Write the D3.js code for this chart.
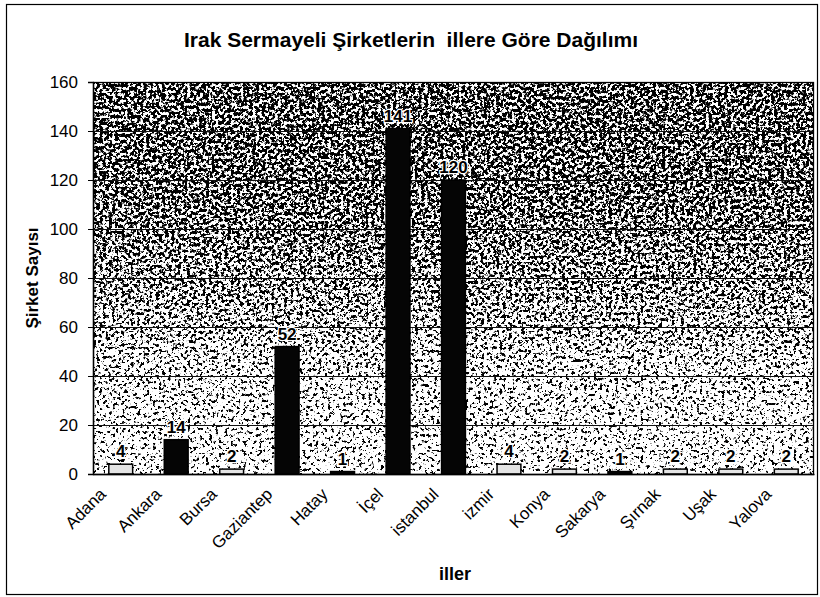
<!DOCTYPE html>
<meta charset="utf-8">
<title>Irak Sermayeli Şirketler</title>
<body>
<script src="https://cdn.jsdelivr.net/npm/d3@7"></script>
<style>
html, body {
    margin: 0;
    background: #fff;
}
svg {
    display: block;
    font-family: "Liberation Sans", Arial, sans-serif;
}
</style>
<script>
var cities = ["Adana", "Ankara", "Bursa", "Gaziantep", "Hatay", "İçel", "istanbul", "izmir", "Konya", "Sakarya", "Şırnak", "Uşak", "Yalova"],
    counts = [4, 14, 2, 52, 1, 141, 120, 4, 2, 1, 2, 2, 2],
    yTicks = [0, 20, 40, 60, 80, 100, 120, 140, 160];

var width = 820,
    height = 597,
    margin = {top: 82, right: 6, bottom: 123, left: 93};

var plotW = width - margin.left - margin.right,
    plotH = height - margin.top - margin.bottom;

var svg = d3.select("body").append("svg")
    .attr("width", width)
    .attr("height", height);

var defs = svg.append("defs");

// speckled scan texture: noise + vertical density ramp, then thresholded
var filter = defs.append("filter")
    .attr("id", "speckle")
    .attr("color-interpolation-filters", "sRGB")
    .attr("x", 0).attr("y", 0).attr("width", 1).attr("height", 1);
filter.append("feTurbulence")
    .attr("type", "fractalNoise")
    .attr("baseFrequency", 0.32)
    .attr("numOctaves", 4)
    .attr("seed", 11)
    .attr("result", "noise");
filter.append("feComposite")
    .attr("in", "noise")
    .attr("in2", "SourceGraphic")
    .attr("operator", "arithmetic")
    .attr("k1", 0).attr("k2", 0.5).attr("k3", 0.5).attr("k4", 0)
    .attr("result", "sum");
filter.append("feColorMatrix")
    .attr("in", "sum")
    .attr("type", "matrix")
    .attr("values", "0 0 0 0 0  0 0 0 0 0  0 0 0 0 0  40 0 0 0 -20");

var ramp = defs.append("linearGradient")
    .attr("id", "ramp")
    .attr("x1", 0).attr("y1", 0).attr("x2", 0).attr("y2", 1);
[[0, 0.535], [0.3, 0.525], [0.55, 0.5], [0.75, 0.47], [1, 0.455]].forEach(function(s) {
    var v = Math.round(s[1] * 255);
    ramp.append("stop")
        .attr("offset", s[0])
        .attr("stop-color", d3.rgb(v, v, v));
});

// outer frame
svg.append("rect")
    .attr("x", 6.5)
    .attr("y", 4.5)
    .attr("width", 811)
    .attr("height", 590)
    .attr("fill", "none")
    .attr("stroke", "#000")
    .attr("stroke-width", 1.2);

var x = d3.scaleBand()
    .domain(cities)
    .range([margin.left, width - margin.right])
    .paddingInner(0.57)
    .paddingOuter(0.285);

var y = d3.scaleLinear()
    .domain([0, 160])
    .range([height - margin.bottom, margin.top]);

svg.append("rect")
    .attr("x", margin.left)
    .attr("y", margin.top)
    .attr("width", plotW)
    .attr("height", plotH)
    .attr("fill", "url(#ramp)")
    .attr("filter", "url(#speckle)");

// gridlines
svg.append("g")
    .selectAll("line")
    .data(yTicks.filter(function(d) { return d > 0 && d < 160; }))
    .enter().append("line")
    .attr("x1", margin.left)
    .attr("x2", width - margin.right)
    .attr("y1", function(d) { return Math.round(y(d)) + 0.5; })
    .attr("y2", function(d) { return Math.round(y(d)) + 0.5; })
    .attr("stroke", "#111")
    .attr("stroke-width", 1.2);

// plot border
svg.append("rect")
    .attr("x", margin.left + 0.5)
    .attr("y", margin.top + 0.5)
    .attr("width", plotW - 1)
    .attr("height", plotH)
    .attr("fill", "none")
    .attr("stroke", "#000")
    .attr("stroke-width", 1.3);

var dark = function(d) { return d >= 10 || d <= 1; };

svg.append("g")
    .selectAll("rect")
    .data(counts)
    .enter().append("rect")
    .attr("x", function(d, i) { return x(cities[i]); })
    .attr("y", function(d) { return y(d); })
    .attr("width", x.bandwidth())
    .attr("height", function(d) { return y(0) - y(d); })
    .attr("fill", function(d) { return dark(d) ? "#050505" : "#e4e4e4"; })
    .attr("stroke", "#000")
    .attr("stroke-width", 1.5);

svg.append("g")
    .selectAll("text")
    .data(counts)
    .enter().append("text")
    .attr("x", function(d, i) { return x(cities[i]) + x.bandwidth() / 2; })
    .attr("y", function(d) { return y(d) - 7; })
    .attr("text-anchor", "middle")
    .attr("font-size", 17)
    .attr("font-weight", "bold")
    .attr("stroke", "#fff")
    .attr("stroke-width", 2.5)
    .attr("paint-order", "stroke")
    .text(function(d) { return d; });

// y axis
var yAxis = svg.append("g")
    .attr("transform", "translate(" + margin.left + ",0)")
    .call(d3.axisLeft(y).tickValues(yTicks).tickSize(5).tickPadding(10));
yAxis.select(".domain").attr("stroke", "#000").attr("stroke-width", 1.3);
yAxis.selectAll("text")
    .attr("font-family", "Liberation Sans, Arial, sans-serif")
    .attr("font-size", 17)
    .attr("fill", "#000");

// x axis
var xAxis = svg.append("g")
    .attr("transform", "translate(0," + y(0) + ")")
    .call(d3.axisBottom(x).tickSize(0).tickPadding(0));
xAxis.select(".domain").attr("stroke", "#000").attr("stroke-width", 1.5);
xAxis.selectAll("text")
    .attr("font-family", "Liberation Sans, Arial, sans-serif")
    .attr("font-size", 17)
    .attr("fill", "#000")
    .attr("text-anchor", "end")
    .attr("transform", "translate(-18,17) rotate(-45)")
    .attr("dy", "0.35em");

svg.append("text")
    .attr("x", 411)
    .attr("y", 47)
    .attr("text-anchor", "middle")
    .attr("font-size", 21)
    .attr("font-weight", "bold")
    .attr("xml:space", "preserve")
    .text("Irak Sermayeli Şirketlerin  illere Göre Dağılımı");

svg.append("text")
    .attr("transform", "translate(38," + (margin.top + plotH / 2) + ") rotate(-90)")
    .attr("text-anchor", "middle")
    .attr("font-size", 17)
    .attr("font-weight", "bold")
    .text("Şirket Sayısı");

svg.append("text")
    .attr("x", 455)
    .attr("y", 580)
    .attr("text-anchor", "middle")
    .attr("font-size", 18)
    .attr("font-weight", "bold")
    .text("iller");
</script>
